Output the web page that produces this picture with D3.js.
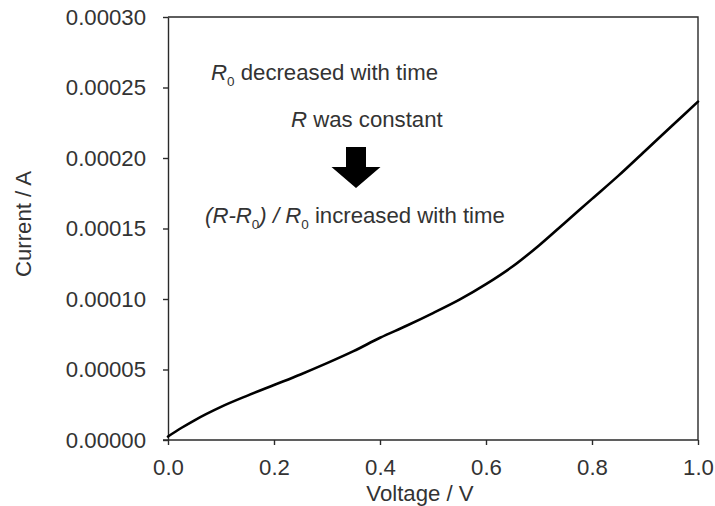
<!DOCTYPE html>
<html>
<head>
<meta charset="utf-8">
<script src="https://cdn.jsdelivr.net/npm/d3@7/dist/d3.min.js"></script>
<style>
  html, body { margin: 0; padding: 0; background: #fff; }
  svg { display: block; }
  text { font-family: "Liberation Sans", Arial, Helvetica, sans-serif; fill: #333; }
</style>
</head>
<body>
<svg id="chart" width="715" height="506"></svg>
<script>
// ---- data ----
const voltage = [0, 0.025, 0.05, 0.1, 0.15, 0.2, 0.25, 0.3, 0.35, 0.4, 0.45, 0.5, 0.55, 0.6, 0.65, 0.7, 0.75, 0.8, 0.85, 0.9, 0.95, 1.0];
const current = [0.0000025, 0.0000085, 0.0000140, 0.0000235, 0.0000315, 0.0000390, 0.0000465, 0.0000545, 0.0000630, 0.0000725, 0.0000810, 0.0000900, 0.0000995, 0.0001105, 0.0001230, 0.0001380, 0.0001545, 0.0001710, 0.0001875, 0.0002050, 0.0002225, 0.0002400];
const xTicks = [0, 0.2, 0.4, 0.6, 0.8, 1.0];
const yTicks = [0, 0.00005, 0.0001, 0.00015, 0.0002, 0.00025, 0.0003];
const xTitle = "Voltage / V";
const yTitle = "Current / A";

const svg = d3.select("#chart");
const margin = {left: 168, top: 17, right: 17, bottom: 66};
const W = 715, H = 506;
const x = d3.scaleLinear().domain([0, 1]).range([margin.left, W - margin.right]);
const y = d3.scaleLinear().domain([0, 0.0003]).range([H - margin.bottom, margin.top]);
const FS = 22.2;
const axisColor = "#2a2a2a";

// frame (top + right)
svg.append("path")
  .attr("d", `M${x(0)},${y(0.0003)}H${x(1)}V${y(0)}`)
  .attr("fill", "none").attr("stroke", axisColor).attr("stroke-width", 1.4);

// x axis
const gx = svg.append("g").attr("transform", `translate(0,${y(0)})`)
  .call(d3.axisBottom(x).tickValues(xTicks).tickFormat(d3.format(".1f")).tickSize(5).tickSizeOuter(0).tickPadding(14));
// y axis
const gy = svg.append("g").attr("transform", `translate(${x(0)},0)`)
  .call(d3.axisLeft(y).tickValues(yTicks).tickFormat(d3.format(".5f")).tickSize(5).tickSizeOuter(0).tickPadding(17));
[gx, gy].forEach(g => {
  g.select(".domain").attr("stroke", axisColor).attr("stroke-width", 1.4);
  g.selectAll(".tick line").attr("stroke", axisColor).attr("stroke-width", 1.4);
  g.selectAll(".tick text").attr("font-size", FS).attr("font-family", "Liberation Sans, Arial, sans-serif").attr("fill", "#333");
});
// extend x domain slightly left to cross y axis like the original
gx.select(".domain").attr("d", `M${x(0) - 5},0H${x(1)}`);

// axis titles
svg.append("text").attr("x", 420).attr("y", 501).attr("text-anchor", "middle")
  .attr("font-size", FS).text(xTitle);
svg.append("text").attr("transform", `translate(31,224) rotate(-90)`).attr("text-anchor", "middle")
  .attr("font-size", FS).text(yTitle);

// data line
const pts = voltage.map((v, i) => [v, current[i]]);
svg.append("path").datum(pts)
  .attr("fill", "none").attr("stroke", "#000").attr("stroke-width", 2.6)
  .attr("stroke-linejoin", "round").attr("stroke-linecap", "round")
  .attr("d", d3.line().x(d => x(d[0])).y(d => y(d[1])).curve(d3.curveMonotoneX));

// annotations
function richText(xpos, ypos, parts) {
  const t = svg.append("text").attr("x", xpos).attr("y", ypos).attr("font-size", FS);
  parts.forEach(p => {
    const ts = t.append("tspan").text(p.t);
    if (p.i) ts.attr("font-style", "italic");
    if (p.sub) ts.attr("font-size", 13.5).attr("dy", 6);
    if (p.after) ts.attr("dy", -6);
  });
  return t;
}
richText(211, 80, [{t: "R", i: true}, {t: "0", sub: true}, {t: " decreased with time", after: true}]);
richText(291, 127, [{t: "R", i: true}, {t: " was constant"}]);
richText(205, 223, [{t: "(R-R", i: true}, {t: "0", sub: true}, {t: ") / R", i: true, after: true}, {t: "0", sub: true}, {t: " increased with time", after: true}]);

// arrow
const ax = 356, aTop = 147, aNeck = 167, aTip = 188, shaftW = 10, headW = 24.5;
svg.append("path")
  .attr("d", `M${ax - shaftW},${aTop}H${ax + shaftW}V${aNeck}H${ax + headW}L${ax},${aTip}L${ax - headW},${aNeck}H${ax - shaftW}Z`)
  .attr("fill", "#000");
</script>
</body>
</html>
